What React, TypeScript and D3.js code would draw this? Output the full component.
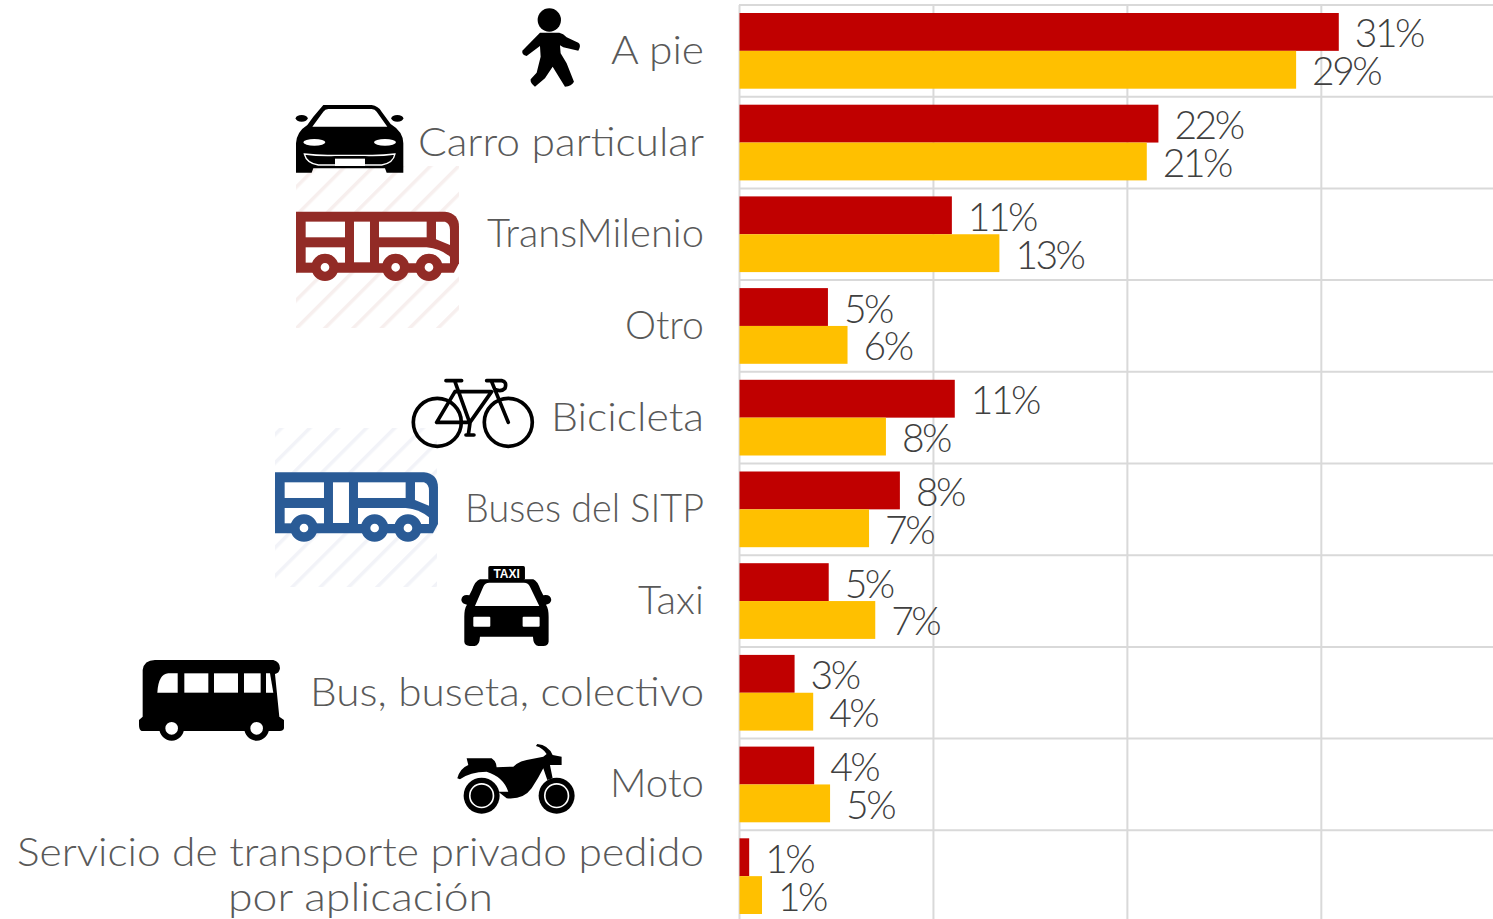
import React from 'react'
import * as d3 from 'd3'

const width = 1493
const height = 919

const categories = ['A pie', 'Carro particular', 'TransMilenio', 'Otro', 'Bicicleta', 'Buses del SITP', 'Taxi', 'Bus, buseta, colectivo', 'Moto', 'Servicio de transporte privado pedido|por aplicación']
const seriesA = [30.9, 21.6, 10.95, 4.56, 11.1, 8.27, 4.6, 2.84, 3.85, 0.5]
const seriesB = [28.7, 21.0, 13.4, 5.57, 7.55, 6.68, 7.0, 3.8, 4.67, 1.16]
const labelsA = ['31%', '22%', '11%', '5%', '11%', '8%', '5%', '3%', '4%', '1%']
const labelsB = ['29%', '21%', '13%', '6%', '8%', '7%', '7%', '4%', '5%', '1%']
const xTicks = [0, 10, 20, 30]
// measured label widths, the original face is wider than anything installed
const labelWidths: Record<string, number> = {
    'A pie': 93, 'Carro particular': 286, 'TransMilenio': 217, 'Otro': 79, 'Bicicleta': 153,
    'Buses del SITP': 239, 'Taxi': 66, 'Bus, buseta, colectivo': 394, 'Moto': 94,
    'Servicio de transporte privado pedido': 687, 'por aplicación': 265,
}

const RED = '#c00000'
const YELLOW = '#ffc000'
const GRID = '#d9d9d9'
const CAT_FONT = 'Lato, "Open Sans", sans-serif'

const xScale = d3.scaleLinear().domain([0, 38.8]).range([739.5, 1492])
const yScale = d3.scaleBand<string>().domain(categories).range([5, 922])
const barScale = d3.scaleBand<string>().domain(['a', 'b']).range([8, yScale.bandwidth() - 8])

// bus outline shared by TransMilenio and SITP, drawn in zoomed-crop units
const Bus = ({color, dx, dy}: {color: string; dx: number; dy: number}) => (
    <g transform={`translate(${dx},${dy})`}>
        <path fill={color} d="M78 635 L525 635 Q567 640 567 680 L567 790 L552 818 L78 818 Z" />
        <g fill="#fff">
            <rect x={107} y={665} width={118} height={47} />
            <rect x={107} y={742} width={118} height={46} />
            <rect x={252} y={665} width={48} height={122} />
            <rect x={327} y={665} width={143} height={47} />
            <path d="M327 742 L470 742 Q510 745 540 770 L540 790 L327 790 Z" />
            <path d="M498 665 L525 665 Q540 670 540 690 L540 735 L498 718 Z" />
        </g>
        {[165, 377, 477].map(cx => (
            <circle key={cx} cx={cx} cy={802} r={27} fill="#fff" stroke={color} strokeWidth={28} />
        ))}
    </g>
)

const Hatch = ({id, color}: {id: string; color: string}) => (
    <pattern id={id} width={20} height={20} patternUnits="userSpaceOnUse" patternTransform="rotate(45)">
        <rect width={3.5} height={20} fill={color} />
    </pattern>
)

const Bike = () => (
    <g fill="none" stroke="#000" strokeWidth={11} strokeLinecap="round" strokeLinejoin="round">
        <circle cx={922} cy={157} r={72} />
        <circle cx={1135} cy={157} r={72} />
        <path d="M948 32 L995 32 M975 35 L1020 160 M975 65 L1082 65 M975 65 L920 157 L1020 157 L1085 65 M1085 35 L1135 157 M1070 32 L1115 32 Q1132 35 1125 55 Q1115 65 1100 60 M1020 160 L1015 195 M1008 195 L1032 195" />
    </g>
)

const Taxi = () => (
    <g>
        <rect x={1075} y={588} width={110} height={42} rx={5} fill="#000" />
        <path d="M1050 628 L1210 628 Q1222 632 1232 660 L1240 676 Q1262 672 1264 690 Q1262 702 1248 704 Q1256 715 1256 740 L1256 815 Q1254 828 1240 828 L1225 828 Q1210 826 1209 800 L1050 800 Q1049 826 1034 828 L1019 828 Q1004 826 1003 815 L1003 740 Q1003 715 1011 704 Q996 702 994 690 Q996 672 1018 676 L1026 660 Q1036 632 1050 628 Z" fill="#000" />
        <path d="M1035 708 L1060 650 Q1065 638 1078 638 L1182 638 Q1195 638 1200 650 L1228 708 Z" fill="#fff" />
        <rect x={1030} y={740} width={51} height={30} rx={3} fill="#fff" />
        <rect x={1178} y={740} width={51} height={30} rx={3} fill="#fff" />
        <text x={1130} y={623} textAnchor="middle" fill="#fff" fontFamily="Liberation Sans" fontWeight={700} fontSize={36}>TAXI</text>
    </g>
)

const BlackBus = () => (
    <g>
        <path fill="#000" d="M38 60 Q42 30 75 30 L430 30 Q450 35 450 55 Q448 70 435 72 L448 200 L462 210 L462 235 Q460 243 450 243 L35 243 Q27 240 27 225 L27 210 L38 200 Z" />
        <g fill="#fff">
            <path d="M82 128 Q85 72 115 70 L143 70 L143 128 Z" />
            <rect x={163} y={70} width={72} height={58} />
            <rect x={252} y={70} width={72} height={58} />
            <rect x={342} y={70} width={50} height={58} />
            <path d="M408 70 L420 70 L430 128 L408 128 Z" />
        </g>
        {[125, 380].map(cx => (
            <circle key={cx} cx={cx} cy={235} r={28} fill="#fff" stroke="#000" strokeWidth={18} />
        ))}
    </g>
)

const Moto = () => (
    <g>
        <path fill="#000" d="M982 385 Q990 355 1015 345 L1010 325 L1085 325 Q1100 335 1100 352 L1150 350 Q1165 335 1190 330 L1240 320 L1250 312 Q1240 295 1218 288 L1222 282 Q1255 285 1268 315 L1295 320 L1295 345 L1260 345 L1268 385 L1252 390 L1240 355 Q1225 385 1205 415 Q1180 450 1130 445 L1105 425 L1135 425 Q1120 380 1070 365 Q1020 365 990 388 Z" />
        {[1055, 1280].map(cx => (
            <g key={cx}>
                <circle cx={cx} cy={437} r={54} fill="#000" />
                <circle cx={cx} cy={437} r={38} fill="#fff" />
                <circle cx={cx} cy={437} r={33} fill="#000" />
            </g>
        ))}
    </g>
)

const Walker = () => (
    <g fill="#000">
        <circle cx={838} cy={60} r={35} />
        <path d="M810 98 L868 98 Q880 100 890 112 L925 128 Q935 135 925 152 L880 142 L870 136 L872 160 L890 190 L912 245 Q905 258 885 260 L848 200 L825 235 L795 260 Q780 250 782 238 L800 218 L812 170 L810 138 L770 168 Q755 165 757 152 Z" />
    </g>
)

const Car = () => (
    <g>
        <path fill="#000" d="M160 315 L305 315 Q325 318 335 335 L362 372 Q400 395 400 430 L400 518 L350 518 L345 505 L130 505 L125 518 L78 518 L78 430 Q80 395 112 375 L130 350 Z" />
        <ellipse cx={95} cy={355} rx={18} ry={10} fill="#000" />
        <ellipse cx={382} cy={355} rx={18} ry={10} fill="#000" />
        <path fill="#fff" d="M127 380 L160 335 Q165 327 175 327 L305 327 Q315 327 320 335 L352 380 Z" />
        <ellipse cx={133} cy={427} rx={33} ry={10} fill="#fff" />
        <ellipse cx={345} cy={427} rx={33} ry={10} fill="#fff" />
        <path fill="none" stroke="#fff" strokeWidth={4} d="M103 462 Q150 468 195 466 L285 466 Q330 468 375 462 Q370 490 335 495 L145 495 Q110 490 103 462 Z" />
        <rect x={195} y={476} width={90} height={22} fill="#fff" />
    </g>
)

const CatText = ({label, x, y, anchor}: {label: string; x: number; y: number; anchor: string}) => (
    <text x={x} y={y} textAnchor={anchor} fontFamily={CAT_FONT} fontWeight={300} fontSize={39} fill="#595959"
        textLength={labelWidths[label]} lengthAdjust="spacingAndGlyphs">{label}</text>
)

export default function App() {
    const bw = barScale.bandwidth()
    return (
        <svg width={width} height={height} viewBox={`0 0 ${width} ${height}`}
            style={{position: 'absolute', left: 0, top: 0, background: '#fff'}}>
            <defs>
                <Hatch id="hatch-red" color="#f7efee" />
                <Hatch id="hatch-blue" color="#f2f3f8" />
            </defs>

            {/* gridlines */}
            {xTicks.map(t => (
                <line key={t} x1={xScale(t)} x2={xScale(t)} y1={5} y2={height} stroke={GRID} strokeWidth={2} />
            ))}
            {categories.map(c => (
                <line key={c} x1={739} x2={width} y1={yScale(c)} y2={yScale(c)} stroke={GRID} strokeWidth={2} />
            ))}

            {/* bars and value labels */}
            {categories.map((c, i) => {
                const y0 = yScale(c) as number
                return (
                    <g key={c}>
                        {[seriesA[i], seriesB[i]].map((v, j) => {
                            const key = j === 0 ? 'a' : 'b'
                            const y = y0 + (barScale(key) as number)
                            return (
                                <g key={key}>
                                    <rect x={xScale(0)} y={y} width={xScale(v) - xScale(0)} height={bw} fill={j === 0 ? RED : YELLOW} />
                                    <text x={xScale(v) + 16} y={y + bw / 2 + 15.5} fontFamily={CAT_FONT} fontWeight={300}
                                        fontSize={39} letterSpacing={-2.5} fill="#404040">
                                        {j === 0 ? labelsA[i] : labelsB[i]}
                                    </text>
                                </g>
                            )
                        })}
                    </g>
                )
            })}

            {/* category labels */}
            {categories.map(c => {
                const yc = (yScale(c) as number) + yScale.bandwidth() / 2
                const lines = c.split('|')
                if (lines.length > 1) {
                    return (
                        <g key={c}>
                            {lines.map((l, i) => <CatText key={l} label={l} x={360.5} y={866 + i * 45} anchor="middle" />)}
                        </g>
                    )
                }
                return <CatText key={c} label={c} x={704} y={yc + 13} anchor="end" />
            })}

            {/* icons, coordinates come from 3x crops of the picture */}
            <rect x={296} y={166} width={163} height={162} fill="url(#hatch-red)" />
            <rect x={275} y={428} width={162} height={159} fill="url(#hatch-blue)" />
            <g transform="translate(270,0) scale(0.3333)">
                <Walker />
                <Car />
                <Bus color="#922b26" dx={0} dy={0} />
            </g>
            <g transform="translate(130,370) scale(0.3333)">
                <Bike />
                <Bus color="#2a5b96" dx={357} dy={-328} />
                <Taxi />
            </g>
            <g transform="translate(130,650) scale(0.3333)">
                <BlackBus />
                <Moto />
            </g>
        </svg>
    )
}
